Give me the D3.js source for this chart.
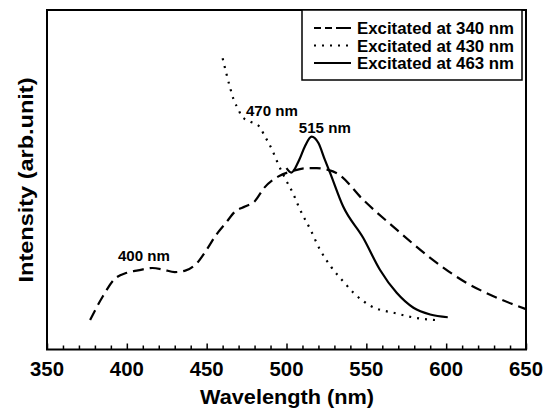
<!DOCTYPE html>
<html>
<head>
<meta charset="utf-8">
<script src="https://cdn.jsdelivr.net/npm/d3@7"></script>
<style>
  body { margin: 0; background: #fff; }
  svg { display: block; font-family: "Liberation Sans", Arial, sans-serif; font-weight: bold; }
</style>
</head>
<body>
<svg id="chart" width="546" height="408"></svg>
<script>
// wavelength (nm) / intensity (arb.)
const ex340Wl = [377, 385, 392, 400, 407, 416, 423, 430, 437, 444, 450, 456, 462, 468, 474, 480, 486, 495, 504, 512, 519, 526, 532, 548, 569, 590, 611, 632, 650];
const ex340Int = [8.7, 15.7, 20.6, 22.6, 23.3, 24.0, 23.5, 22.8, 23.3, 25.5, 29.4, 33.8, 37.3, 40.7, 42.1, 43.6, 47.6, 51.0, 52.6, 53.4, 53.4, 52.9, 51.8, 44.1, 35.3, 27.0, 20.1, 15.2, 11.9];

const ex430Wl = [460, 462, 464.5, 467, 470, 472, 477.5, 483, 486, 491, 495, 499, 504, 508, 515, 521, 528, 536, 542, 552, 569, 581, 596];
const ex430Int = [85.8, 81.9, 77.4, 73.5, 70.6, 68.6, 67.1, 65.7, 63.2, 58.8, 54.4, 50.5, 46.1, 41.7, 35.3, 29.4, 24.3, 19.8, 16.7, 13.0, 10.6, 9.3, 8.6];

const ex463Wl = [500, 503, 508, 511.5, 515.7, 520, 524, 527, 535.5, 548, 558.5, 569, 579.5, 590, 601];
const ex463Int = [53.4, 52.1, 55.9, 59.8, 62.7, 60.8, 55.9, 52.4, 42.1, 32.9, 23.5, 16.7, 12.3, 10.3, 9.5];

const legendLabels = ["Excitated at 340 nm", "Excitated at 430 nm", "Excitated at 463 nm"];
const peakLabels = ["400 nm", "470 nm", "515 nm"];
const peakWl = [410.7, 474.6, 524];
const peakInt = [26.2, 68.8, 63.8];
const xTicks = [350, 400, 450, 500, 550, 600, 650];

const svg = d3.select('#chart');
const plotLeft = 47, plotRight = 526, plotTop = 10, plotBottom = 349.5;

const x = d3.scaleLinear().domain([350, 650]).range([plotLeft, plotRight]);
const y = d3.scaleLinear().domain([0, 100]).range([plotBottom, plotTop]);

const series = [
  { wl: ex340Wl, val: ex340Int, dash: '11,6' },
  { wl: ex430Wl, val: ex430Int, dash: '2,6' },
  { wl: ex463Wl, val: ex463Int, dash: null }
];

const line = d3.line()
  .x(d => x(d[0]))
  .y(d => y(d[1]))
  .curve(d3.curveMonotoneX);

series.forEach(s => {
  svg.append('path')
    .datum(s.wl.map((w, i) => [w, s.val[i]]))
    .attr('d', line)
    .attr('fill', 'none')
    .attr('stroke', '#000')
    .attr('stroke-width', 2.2)
    .attr('stroke-dasharray', s.dash);
});

// bottom axis, ticks inward
const xAxis = svg.append('g')
  .attr('transform', `translate(0,${plotBottom})`)
  .call(d3.axisBottom(x).tickValues(d3.range(350, 651, 10)).tickSize(0).tickFormat(''));
xAxis.select('.domain').remove();
xAxis.selectAll('.tick line')
  .attr('y2', d => d % 50 === 0 ? -6 : -4)
  .attr('stroke', '#000')
  .attr('stroke-width', 1.5);

svg.selectAll('.xlab')
  .data(xTicks)
  .enter()
  .append('text')
  .attr('x', d => x(d))
  .attr('y', 376)
  .attr('text-anchor', 'middle')
  .attr('textLength', 34)
  .attr('lengthAdjust', 'spacingAndGlyphs')
  .style('font-size', '20px')
  .text(d => d);

// frame
svg.append('rect')
  .attr('x', plotLeft).attr('y', plotTop)
  .attr('width', plotRight - plotLeft).attr('height', plotBottom - plotTop)
  .attr('fill', 'none').attr('stroke', '#000').attr('stroke-width', 2);

svg.append('text')
  .attr('x', 287)
  .attr('y', 404)
  .attr('text-anchor', 'middle')
  .attr('textLength', 174)
  .attr('lengthAdjust', 'spacingAndGlyphs')
  .style('font-size', '20px')
  .text('Wavelength (nm)');

svg.append('text')
  .attr('transform', `translate(33,180) rotate(-90)`)
  .attr('text-anchor', 'middle')
  .attr('textLength', 205)
  .attr('lengthAdjust', 'spacingAndGlyphs')
  .style('font-size', '21px')
  .text('Intensity (arb.unit)');

// peak labels
svg.selectAll('.peak')
  .data(peakLabels)
  .enter()
  .append('text')
  .attr('x', (d, i) => x(peakWl[i]))
  .attr('y', (d, i) => y(peakInt[i]))
  .attr('text-anchor', (d, i) => i === 1 ? 'start' : 'middle')
  .attr('textLength', 52)
  .attr('lengthAdjust', 'spacingAndGlyphs')
  .style('font-size', '15px')
  .text(d => d);

// legend
const legend = svg.append('g');
legend.append('rect')
  .attr('x', 302).attr('y', plotTop)
  .attr('width', 220).attr('height', 70)
  .attr('fill', '#fff').attr('stroke', '#000').attr('stroke-width', 1.5);

legendLabels.forEach((lab, i) => {
  const ly = 28 + i * 17.5;
  legend.append('line')
    .attr('x1', 314).attr('x2', 351)
    .attr('y1', ly).attr('y2', ly)
    .attr('stroke', '#000').attr('stroke-width', 2)
    .attr('stroke-dasharray', i === 0 ? '7,4,7,4,20' : series[i].dash);
  legend.append('text')
    .attr('x', 357).attr('y', ly + 6)
    .attr('textLength', 157)
    .attr('lengthAdjust', 'spacingAndGlyphs')
    .style('font-size', '16px')
    .text(lab);
});
</script>
</body>
</html>
